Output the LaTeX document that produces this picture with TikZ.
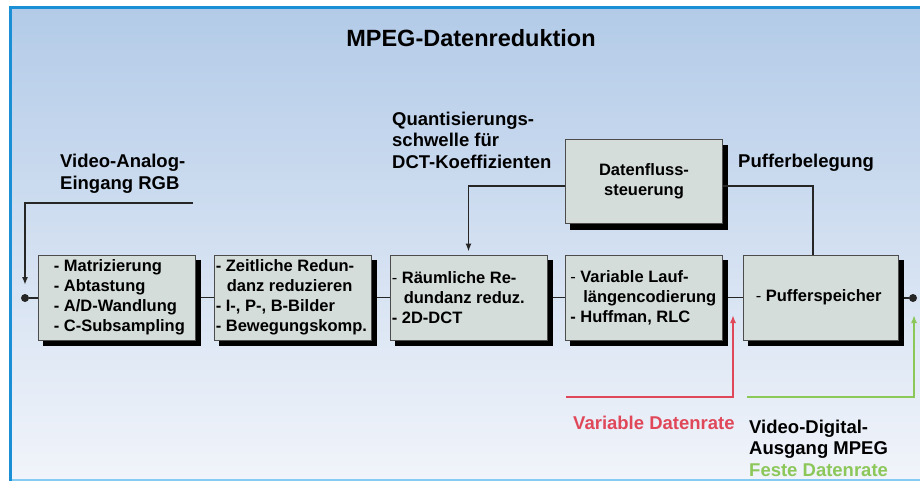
\documentclass[tikz,border=0pt]{standalone}
\usepackage{fontspec}
\setmainfont{Liberation Sans}
\usetikzlibrary{arrows.meta,calc}
\definecolor{framebl}{HTML}{1A8FD6}
\definecolor{framelt}{HTML}{86CBF2}
\definecolor{bgtop}{HTML}{B3CBE8}
\definecolor{bgbot}{HTML}{F1F4FA}
\definecolor{boxfill}{HTML}{D4DDDA}
\definecolor{redc}{HTML}{E0485A}
\definecolor{greenc}{HTML}{8CC75A}
\definecolor{shadowc}{HTML}{000000}
\begin{document}
\begin{tikzpicture}[x=1pt,y=-1pt,
  blk/.style={draw=black!70, line width=0.8pt, fill=boxfill, minimum width=157pt,
    minimum height=85pt, inner sep=0pt},
  shd/.style={fill=shadowc, draw=shadowc, line width=0.8pt, minimum width=157pt,
    minimum height=85pt, inner sep=0pt},
  btxt/.style={font=\fontsize{16.5}{20}\selectfont\bfseries, align=left, inner sep=0pt, anchor=west},
  lbl/.style={font=\fontsize{18.5}{21.5}\selectfont\bfseries, align=left, inner sep=0pt, anchor=west},
  conn/.style={line width=1.7pt, draw=black!85},
  arr/.style={conn, -{Latex[length=8pt,width=6pt]}},
  dotnode/.style={circle, fill=black!85, inner sep=0pt, minimum size=8pt}]
\useasboundingbox (0,0) rectangle (920,481);
% background frame
\shade[top color=bgtop, bottom color=bgbot] (10,8) rectangle (920,480);
\draw[framelt, line width=2pt] (10,480) -- (920,480);
\draw[framebl, line width=3pt] (10,481) -- (10,8) -- (920,8);
% title
\node[font=\fontsize{23.5}{28}\selectfont\bfseries, inner sep=0pt] (title) at (471,38) {MPEG-Datenreduktion};
% signal path (under boxes)
\node[dotnode] (in) at (25,298) {};
\node[dotnode] (out) at (913,298) {};
\coordinate (c1) at (116.5,297.5);
\coordinate (c5) at (820.5,297.5);
\draw[conn] (in) -- (c1);
\draw[conn] (c1) -- (c5);
\draw[conn] (c5) -- (out);
% shadows
\node[shd] (s1) at (121.5,302.5) {};
\node[shd] (s2) at (297.5,302.5) {};
\node[shd] (s3) at (473.5,302.5) {};
\node[shd] (s4) at (649,302.5) {};
\node[shd, minimum width=155pt] (s5) at (825.5,302.5) {};
\node[shd, minimum height=84pt] (s6) at (649,187) {};
% boxes
\node[blk] (b1) at (116.5,297.5) {};
\node[blk] (b2) at (292.5,297.5) {};
\node[blk] (b3) at (468.5,297.5) {};
\node[blk] (b4) at (644,297.5) {};
\node[blk, minimum width=155pt] (b5) at (820.5,297.5) {};
\node[blk, minimum height=84pt, align=center, font=\fontsize{16.5}{20}\selectfont\bfseries] (df) at (644,181) {Datenfluss-\\steuerung};
% box texts
\node[btxt] (t1) at ([xshift=16pt]b1.west) {- Matrizierung\\- Abtastung\\- A/D-Wandlung\\- C-Subsampling};
\node[btxt] (t2) at ([xshift=2pt]b2.west) {- Zeitliche Redun-\\\hspace*{11pt}danz reduzieren\\- I-, P-, B-Bilder\\- Bewegungskomp.};
\node[btxt] (t3) at ([xshift=2pt]b3.west) {{\mdseries -} Räumliche Re-\\\hspace*{12pt}dundanz reduz.\\- 2D-DCT};
\node[btxt] (t4) at ([xshift=5pt]b4.west) {{\mdseries -} Variable Lauf-\\\hspace*{13pt}längencodierung\\- Huffman, RLC};
\node[btxt] (t5) at ([xshift=13pt]b5.west) {{\mdseries -} Pufferspeicher};
% labels
\node[lbl] (lin) at (60,174) {Video-Analog-\\Eingang RGB};
\node[lbl] (lq) at (392,140) {Quantisierungs-\\schwelle für\\DCT-Koeffizienten};
\node[lbl] (lp) at (738,163) {Pufferbelegung};
\node[lbl, text=redc] (lv) at (573,423) {Variable Datenrate};
\node[lbl] (lout) at (749,448) {Video-Digital-\\Ausgang MPEG\\{\color{greenc}Feste Datenrate}};
% input arrow
\coordinate (inTop) at (193,203);
\coordinate (inArr) at (25,285);
\draw[arr] (inTop) -| (inArr);
% feedback
\draw[arr] ([yshift=-5pt]df.west) -| ([yshift=3pt]b3.north);
\draw[conn] ([yshift=-5pt]df.east) -| ([xshift=-7.5pt]b5.north);
% data rate markers
\coordinate (rS) at (566,397);
\coordinate (rT) at (733,315);
\draw[line width=1.7pt, redc, -{Latex[length=8pt,width=6pt]}] (rS) -| (rT);
\coordinate (gS) at (747,397);
\coordinate (gT) at (914,315);
\draw[line width=1.7pt, greenc, -{Latex[length=8pt,width=6pt]}] (gS) -| (gT);
\end{tikzpicture}
\end{document}
